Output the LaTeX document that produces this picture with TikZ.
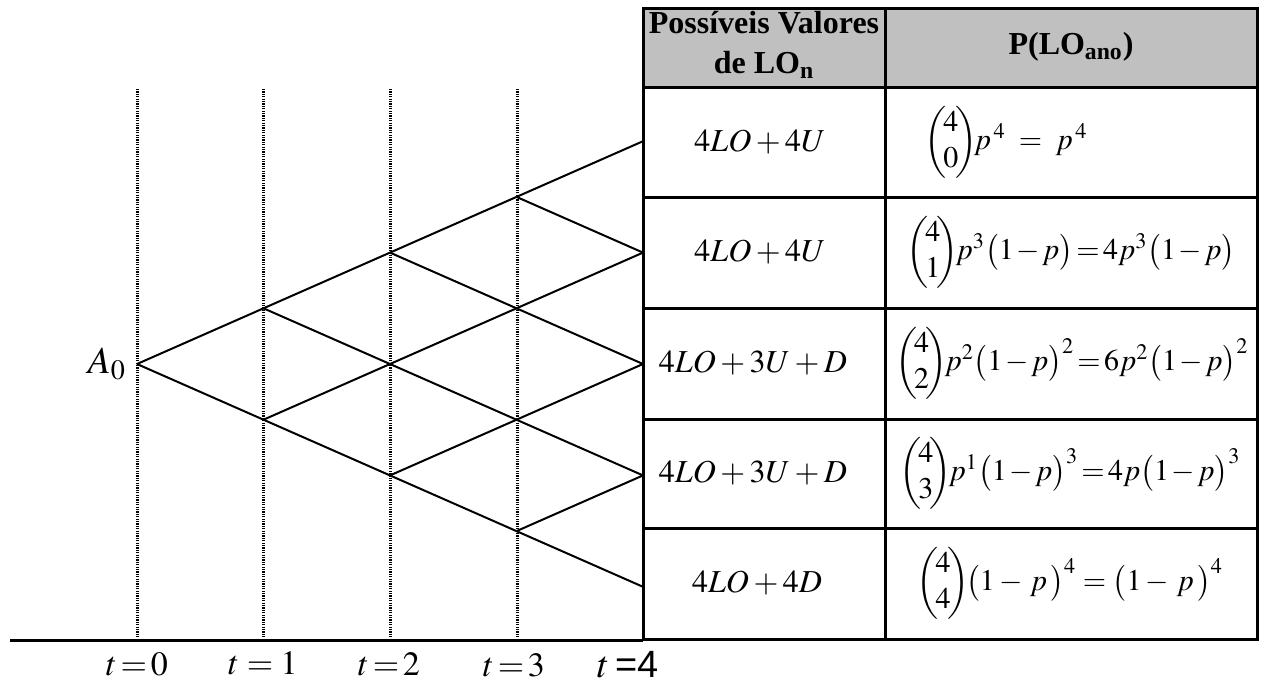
\documentclass[tikz,border=0pt]{standalone}
\usepackage{amsmath}
\usepackage{mathptmx}
\usepackage{fontspec}
\setmainfont{Liberation Serif}
\newfontfamily\arialfont{Liberation Sans}
\usetikzlibrary{positioning}
\definecolor{headgray}{RGB}{192,192,192}
\newcommand{\bincoef}[2]{\biggl(\!\begin{matrix}#1\\#2\end{matrix}\!\biggr)\!}
\newcommand{\tightops}{\medmuskip=1.5mu\relax}

\begin{document}
\begin{tikzpicture}[
    x=0.5pt, y=-0.5pt,
    treeline/.style={line width=1pt, black},
    timeline/.style={line width=1.5pt, dash pattern=on 0.6pt off 0.6pt},
    gridline/.style={line width=1.5pt, black},
    headtext/.style={align=center, font=\fontsize{16}{20}\selectfont\bfseries},
    celltext/.style={font=\fontsize{16}{19}\selectfont},
    probtext/.style={font=\fontsize{15}{18}\selectfont},
    timelabel/.style={anchor=base, font=\fontsize{17}{20}\selectfont}
]
\useasboundingbox (0,0) rectangle (1267,682);

% Header
\fill[headgray] (643,8) rectangle (1257,87);

% Time lines
\foreach \x in {137,263,390,517}
    \draw[timeline] (\x,89) -- (\x,640);

% Tree nodes
\foreach \i in {0,...,4}
    \foreach \k in {0,...,\i}
        \coordinate (n\i\k) at ({137+126.5*\i},{364+55.7*(\i-2*\k)});

% Tree branches
\foreach \i in {0,...,3} {
    \pgfmathtruncatemacro{\nxt}{\i+1}
    \foreach \k in {0,...,\i} {
        \pgfmathtruncatemacro{\up}{\k+1}
        \draw[treeline] (n\i\k) -- (n\nxt\k);
        \draw[treeline] (n\i\k) -- (n\nxt\up);
    }
}
\node[font=\fontsize{19}{21}\selectfont, left=2pt of n00] (a0) {$A_0$};

% Table
\draw[gridline] (643,8) rectangle (1257,639);
\draw[gridline] (885,8) -- (885,639);
\foreach \r in {87,197,308,419,528}
    \draw[gridline] (643,\r) -- (1257,\r);

% Axis
\coordinate (axisstart) at (10,640);
\coordinate (axisend) at (643,640);
\draw[gridline] (axisstart) -- (axisend);

% Time labels
\node[timelabel] (t0) at (137,675) {$t\!=\!0$};
\node[timelabel] (t1) at (263,674) {$t=1$};
\node[timelabel] (t2) at (389,675) {$t\!=\!2$};
\node[timelabel] (t3) at (514,676) {$t\!=\!3$};
\node[timelabel, font=\fontsize{19}{21}\selectfont] (t4) at (628,677) {$t$\,{\arialfont=4}};

% Header texts
\node[headtext] (hval) at (764,45) {Possíveis Valores\\de LO\textsubscript{n}};
\node[headtext] (hprob) at (1071,47) {P(LO\textsubscript{ano})};

% Values
\node[celltext] (v1) at (760,142) {$4LO + 4U$};
\node[celltext] (v2) at (760,252) {$4LO + 4U$};
\node[celltext] (v3) at (753,363) {$4LO + 3U + D$};
\node[celltext] (v4) at (753,473) {$4LO + 3U + D$};
\node[celltext] (v5) at (757,583) {$4LO + 4D$};

% Probabilities
\node[probtext] (p1) at (1006,142) {$\bincoef{4}{0}p^{\,4} \;=\; p^{\,4}$};
\node[probtext] (p2) at (1071,252) {$\tightops\bincoef{4}{1}p^{3}\bigl(1-p\bigr)\!=\!4p^{3}\bigl(1-p\bigr)$};
\node[probtext] (p3) at (1072,363) {$\tightops\bincoef{4}{2}p^{2}\bigl(1-p\bigr)^{2}\!=\!6p^{2}\bigl(1-p\bigr)^{2}$};
\node[probtext] (p4) at (1070,473) {$\tightops\bincoef{4}{3}p^{1}\bigl(1-p\bigr)^{3}\!=\!4p\bigl(1-p\bigr)^{3}$};
\node[probtext] (p5) at (1070,583) {$\bincoef{4}{4}\bigl(1-\,p\,\bigr)^{4} = \bigl(1-\,p\,\bigr)^{4}$};

\end{tikzpicture}
\end{document}
